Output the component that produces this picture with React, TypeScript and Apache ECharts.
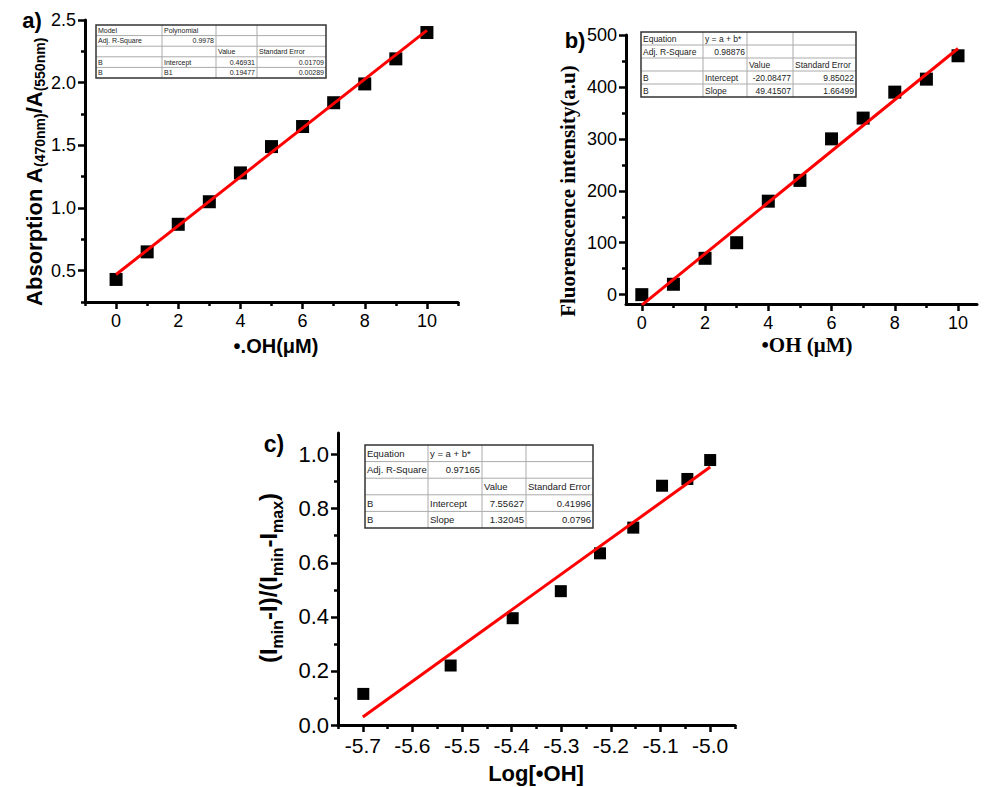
import { useEffect, useRef } from 'react';
import * as echarts from 'echarts';

// ---------- data ----------
const xA = [0, 1, 2, 3, 4, 5, 6, 7, 8, 9, 10];
const yA = [0.43, 0.65, 0.87, 1.05, 1.28, 1.49, 1.65, 1.84, 1.99, 2.19, 2.40];
const fitA = [[0, 0.46931], [10, 2.41701]];

const xB = [0, 1, 2, 3, 4, 5, 6, 7, 8, 9, 10];
const yB = [0, 20, 70, 100, 180, 220, 300, 340, 390, 415, 460];
const fitB = [[0, -20.08477], [10, 474.07]];

const xC = [-5.699, -5.523, -5.398, -5.301, -5.222, -5.155, -5.097, -5.046, -5.0];
const yC = [0.115, 0.22, 0.395, 0.495, 0.635, 0.73, 0.885, 0.91, 0.98];
const fitC = [[-5.7, 0.0297], [-5.0, 0.9542]];

// tick values
const aXMajor = [0, 2, 4, 6, 8, 10];
const aXMinor = [-1, 1, 3, 5, 7, 9, 11];
const aYMajor = [0.5, 1.0, 1.5, 2.0, 2.5];
const aYMinor = [0.25, 0.75, 1.25, 1.75, 2.25];
const bXMajor = [0, 2, 4, 6, 8, 10];
const bXMinor = [1, 3, 5, 7, 9];
const bYMajor = [0, 100, 200, 300, 400, 500];
const bYMinor = [50, 150, 250, 350, 450];
const cXMajor = [-5.7, -5.6, -5.5, -5.4, -5.3, -5.2, -5.1, -5.0];
const cXMinor = [-5.75, -5.65, -5.55, -5.45, -5.35, -5.25, -5.15, -5.05, -4.95];
const cYMajor = [0, 0.2, 0.4, 0.6, 0.8, 1.0];
const cYMinor = [0.1, 0.3, 0.5, 0.7, 0.9];

// tables
const tableARows = [
  ['Model', 'Polynomial', '', ''],
  ['Adj. R-Square', '0.9978', '', ''],
  ['', '', 'Value', 'Standard Error'],
  ['B', 'Intercept', '0.46931', '0.01709'],
  ['B', 'B1', '0.19477', '0.00289'],
];
const tableBRows = [
  ['Equation', 'y = a + b*', '', ''],
  ['Adj. R-Square', '0.98876', '', ''],
  ['', '', 'Value', 'Standard Error'],
  ['B', 'Intercept', '-20.08477', '9.85022'],
  ['B', 'Slope', '49.41507', '1.66499'],
];
const tableCRows = [
  ['Equation', 'y = a + b*', '', ''],
  ['Adj. R-Square', '0.97165', '', ''],
  ['', '', 'Value', 'Standard Error'],
  ['B', 'Intercept', '7.55627', '0.41996'],
  ['B', 'Slope', '1.32045', '0.0796'],
];

const SANS = 'Liberation Sans, Arial, sans-serif';
const SERIF = 'Liberation Serif, Times New Roman, serif';

function makeAxes(
  kind: 'x' | 'y', gridIndex: number, min: number, max: number,
  major: number[], minor: number[], fmt: (v: number) => string,
  fontSize: number, margin: number
) {
  const position = kind === 'x' ? 'bottom' : 'left';
  const main = {
    type: 'value', gridIndex, min, max, position,
    axisLine: { show: true, onZero: false, lineStyle: { color: '#000', width: 3 } },
    axisTick: { show: true, length: 7, lineStyle: { color: '#000', width: 2.5 }, customValues: major },
    axisLabel: { show: true, customValues: major, formatter: fmt, fontSize, fontFamily: SANS, color: '#000', margin },
    splitLine: { show: false },
  };
  const min2 = {
    type: 'value', gridIndex, min, max, position,
    axisLine: { show: false, onZero: false },
    axisTick: { show: true, length: 4, lineStyle: { color: '#000', width: 2.5 }, customValues: minor },
    axisLabel: { show: false },
    splitLine: { show: false },
  };
  return [main, min2];
}

function buildTable(rows: string[][], xs: number[], top: number, rowH: number, fontSize: number) {
  const els: any[] = [];
  const n = rows.length;
  const bottom = top + rowH * n;
  for (let i = 1; i < n; i++) {
    els.push({ type: 'line', shape: { x1: xs[0], y1: top + rowH * i, x2: xs[4], y2: top + rowH * i }, style: { stroke: '#aaa', lineWidth: 1 } });
  }
  for (let j = 1; j < xs.length - 1; j++) {
    els.push({ type: 'line', shape: { x1: xs[j], y1: top, x2: xs[j], y2: bottom }, style: { stroke: '#aaa', lineWidth: 1 } });
  }
  els.push({ type: 'rect', shape: { x: xs[0], y: top, width: xs[4] - xs[0], height: bottom - top }, style: { fill: 'rgba(0,0,0,0)', stroke: '#333', lineWidth: 1.5 } });
  rows.forEach((row, i) => {
    row.forEach((t, j) => {
      if (!t) return;
      const numeric = /^-?[\d.]+$/.test(t);
      els.push({
        type: 'text',
        x: numeric ? xs[j + 1] - 2 : xs[j] + 2,
        y: top + rowH * (i + 0.5),
        style: { text: t, fontSize, fontFamily: SANS, fill: '#222', align: numeric ? 'right' : 'left', verticalAlign: 'middle' },
      });
    });
  });
  return els;
}

function subRich(main: number, sub: number, family: string, pad: number) {
  return {
    m: { fontSize: main, fontWeight: 'bold', fontFamily: family, fill: '#000' },
    s: { fontSize: sub, fontWeight: 'bold', fontFamily: family, fill: '#000', padding: [pad, 0, 0, 0] },
  };
}

export default function App() {
  const ref = useRef<HTMLDivElement>(null);
  useEffect(() => {
    if (!ref.current) return;
    const chart = echarts.init(ref.current, undefined, { renderer: 'svg' });
    const f1 = (v: number) => v.toFixed(1);
    const f0 = (v: number) => String(Math.round(v));

    const [axm, axn] = makeAxes('x', 0, -1, 11, aXMajor, aXMinor, f0, 18, 10);
    const [aym, ayn] = makeAxes('y', 0, 0.25, 2.5, aYMajor, aYMinor, f1, 18, 9);
    const [bxm, bxn] = makeAxes('x', 1, -0.5, 10.6, bXMajor, bXMinor, f0, 18, 10);
    const [bym, byn] = makeAxes('y', 1, -18, 500, bYMajor, bYMinor, f0, 18, 9);
    const [cxm, cxn] = makeAxes('x', 2, -5.75, -4.95, cXMajor, cXMinor, f1, 21, 10);
    const [cym, cyn] = makeAxes('y', 2, 0, 1.08, cYMajor, cYMinor, f1, 22, 9);

    const scatter = (xi: number, xs: number[], ys: number[], size: number) => ({
      type: 'scatter', xAxisIndex: xi, yAxisIndex: xi, symbol: 'rect', symbolSize: size,
      itemStyle: { color: '#000', opacity: 1 }, data: xs.map((x, i) => [x, ys[i]]), z: 2,
    });
    const fit = (xi: number, d: number[][]) => ({
      type: 'line', xAxisIndex: xi, yAxisIndex: xi, data: d, showSymbol: false, symbol: 'none',
      lineStyle: { color: '#ff0000', width: 3 }, z: 3,
    });

    const graphic: any[] = [
      ...buildTable(tableARows, [96, 162, 216, 257, 326], 25, 10.6, 7),
      ...buildTable(tableBRows, [641, 703, 747, 793, 856], 32, 13, 8.5),
      ...buildTable(tableCRows, [365, 428, 482, 526, 593], 445, 16.6, 9.5),
      { type: 'text', x: 32, y: 20, style: { text: 'a)', fontSize: 22, fontWeight: 'bold', fontFamily: SANS, fill: '#000', align: 'center', verticalAlign: 'middle' } },
      { type: 'text', x: 575, y: 40, style: { text: 'b)', fontSize: 22, fontWeight: 'bold', fontFamily: SANS, fill: '#000', align: 'center', verticalAlign: 'middle' } },
      { type: 'text', x: 274, y: 444, style: { text: 'c)', fontSize: 23, fontWeight: 'bold', fontFamily: SANS, fill: '#000', align: 'center', verticalAlign: 'middle' } },
      {
        type: 'text', x: 34, y: 172, rotation: Math.PI / 2,
        style: {
          text: '{m|Absorption A}{s|(470nm)}{m|/A}{s|(550nm)}',
          rich: subRich(22, 14, SANS, 12), align: 'center', verticalAlign: 'middle',
        },
      },
      { type: 'text', x: 276, y: 346, style: { text: '•.OH(μM)', fontSize: 20, fontWeight: 'bold', fontFamily: SANS, fill: '#000', align: 'center', verticalAlign: 'middle' } },
      { type: 'text', x: 568, y: 191, rotation: Math.PI / 2, style: { text: 'Fluorenscence intensity(a.u)', fontSize: 21, fontWeight: 'bold', fontFamily: SERIF, fill: '#000', align: 'center', verticalAlign: 'middle' } },
      { type: 'text', x: 807, y: 345, style: { text: '•OH (μM)', fontSize: 21, fontWeight: 'bold', fontFamily: SERIF, fill: '#000', align: 'center', verticalAlign: 'middle' } },
      {
        type: 'text', x: 268, y: 578, rotation: Math.PI / 2,
        style: {
          text: '{m|(I}{s|min}{m|-I)/(I}{s|min}{m|-I}{s|max}{m|)}',
          rich: subRich(24, 16, SANS, 18), align: 'center', verticalAlign: 'middle',
        },
      },
      { type: 'text', x: 536, y: 773, style: { text: 'Log[•OH]', fontSize: 22, fontWeight: 'bold', fontFamily: SANS, fill: '#000', align: 'center', verticalAlign: 'middle' } },
    ];

    chart.setOption({
      animation: false,
      backgroundColor: '#fff',
      grid: [
        { left: 85, top: 20, width: 373, height: 282 },
        { left: 626, top: 35, width: 351, height: 269 },
        { left: 338, top: 433, width: 397, height: 292 },
      ],
      xAxis: [axm, axn, bxm, bxn, cxm, cxn],
      yAxis: [aym, ayn, bym, byn, cym, cyn],
      series: [
        scatter(0, xA, yA, 13), fit(0, fitA),
        scatter(2, xB, yB, 13), fit(2, fitB),
        scatter(4, xC, yC, 12), fit(4, fitC),
      ],
      graphic,
    });
    return () => chart.dispose();
  }, []);
  return <div ref={ref} style={{ position: 'fixed', left: 0, top: 0, width: 984, height: 787 }} />;
}
